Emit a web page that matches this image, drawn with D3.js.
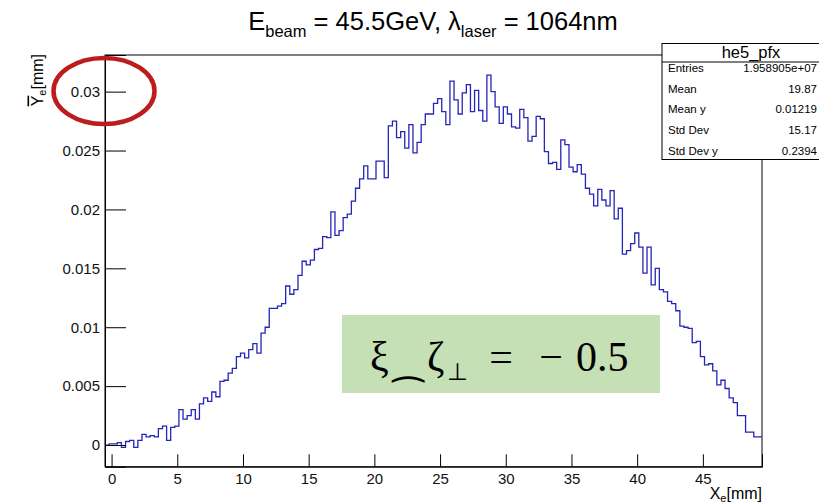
<!DOCTYPE html>
<html>
<head>
<meta charset="utf-8">
<script src="https://cdn.jsdelivr.net/npm/d3@7"></script>
<style>
  html, body { margin: 0; padding: 0; background: #fff; }
  svg { display: block; font-family: "Liberation Sans", Arial, Helvetica, sans-serif; }
</style>
</head>
<body>
<svg id="chart" width="819" height="504"></svg>
<script>
// Profile of mean Y_e versus X_e (he5_pfx), 160 bins over the X range
const binRange = [-0.5, 49.5];
const meanY = [
  0.0000, 0.0001, 0.0001, 0.0002, -0.0002, 0.0003, 0.0004, -0.0002, 0.0004, 0.0009,
  0.0007, 0.0008, 0.0007, 0.0014, 0.0016, 0.0004, 0.0015, 0.0016, 0.0030, 0.0022,
  0.0025, 0.0030, 0.0022, 0.0035, 0.0040, 0.0037, 0.0045, 0.0041, 0.0054, 0.0055,
  0.0061, 0.0065, 0.0075, 0.0078, 0.0074, 0.0081, 0.0086, 0.0078, 0.0095, 0.0100,
  0.0116, 0.0116, 0.0118, 0.0120, 0.0135, 0.0128, 0.0132, 0.0144, 0.0156, 0.0153,
  0.0157, 0.0166, 0.0167, 0.0177, 0.0176, 0.0198, 0.0178, 0.0182, 0.0193, 0.0196,
  0.0207, 0.0218, 0.0226, 0.0237, 0.0226, 0.0226, 0.0241, 0.0241, 0.0227, 0.0271,
  0.0275, 0.0261, 0.0266, 0.0252, 0.0272, 0.0248, 0.0257, 0.0272, 0.0281, 0.0281,
  0.0290, 0.0294, 0.0283, 0.0272, 0.0309, 0.0293, 0.0281, 0.0299, 0.0306, 0.0283,
  0.0301, 0.0284, 0.0275, 0.0314, 0.0300, 0.0287, 0.0273, 0.0287, 0.0281, 0.0270,
  0.0269, 0.0285, 0.0278, 0.0258, 0.0262, 0.0279, 0.0277, 0.0249, 0.0239, 0.0240,
  0.0234, 0.0259, 0.0255, 0.0236, 0.0232, 0.0238, 0.0230, 0.0218, 0.0213, 0.0203,
  0.0217, 0.0208, 0.0203, 0.0216, 0.0192, 0.0201, 0.0162, 0.0165, 0.0171, 0.0180,
  0.0168, 0.0146, 0.0168, 0.0136, 0.0150, 0.0132, 0.0130, 0.0122, 0.0120, 0.0114,
  0.0101, 0.0100, 0.0099, 0.0087, 0.0088, 0.0075, 0.0068, 0.0069, 0.0063, 0.0051,
  0.0055, 0.0048, 0.0040, 0.0036, 0.0025, 0.0025, 0.0011, 0.0011, 0.0007, 0.0007
];
const yRange = [-0.00184, 0.03311];

const xTickValues = [0, 5, 10, 15, 20, 25, 30, 35, 40, 45];
const xTickLabels = ["0", "5", "10", "15", "20", "25", "30", "35", "40", "45"];
const yTickValues = [0, 0.005, 0.01, 0.015, 0.02, 0.025, 0.03];
const yTickLabels = ["0", "0.005", "0.01", "0.015", "0.02", "0.025", "0.03"];

const statsTitle = "he5_pfx";
const statNames = ["Entries", "Mean", "Mean y", "Std Dev", "Std Dev y"];
const statValues = ["1.958905e+07", "19.87", "0.01219", "15.17", "0.2394"];

const sans = "'Liberation Sans', Arial, Helvetica, sans-serif";
const serif = "'Liberation Serif', 'DejaVu Serif', serif";

const svg = d3.select("#chart");
const frame = { left: 105, right: 762, top: 55, bottom: 466.7 };

const x = d3.scaleLinear().domain(binRange).range([frame.left, frame.right]);
const y = d3.scaleLinear().domain(yRange).range([frame.bottom, frame.top]);

// Frame
svg.append("rect")
  .attr("x", frame.left).attr("y", frame.top)
  .attr("width", frame.right - frame.left).attr("height", frame.bottom - frame.top)
  .attr("fill", "none").attr("stroke", "#000").attr("stroke-width", 1);

// Histogram outline (step line over bin edges)
const nBins = meanY.length;
const binWidth = (binRange[1] - binRange[0]) / nBins;
const pts = meanY.map((v, i) => [binRange[0] + i * binWidth, v]);
pts.push([binRange[1], meanY[nBins - 1]]);
svg.append("path")
  .datum(pts)
  .attr("fill", "none")
  .attr("stroke", "#2525b8")
  .attr("stroke-width", 1.3)
  .attr("d", d3.line().x(d => x(d[0])).y(d => y(d[1])).curve(d3.curveStepAfter));

// Y axis: major and minor ticks pointing into the frame
const yMinor = d3.range(-0.001, 0.0335, 0.001).filter(v => Math.abs(Math.round(v * 200) - v * 200) > 1e-6);
const yAxisG = svg.append("g").attr("transform", `translate(${frame.left},0)`);
yAxisG.call(d3.axisLeft(y).tickValues(yMinor).tickSize(-10).tickFormat(""));
yAxisG.call(d3.axisLeft(y).tickValues(yTickValues).tickSize(-21).tickPadding(5)
  .tickFormat((d, i) => yTickLabels[i]));
yAxisG.selectAll(".domain").attr("stroke", "#000");
yAxisG.selectAll(".tick line").attr("stroke", "#000");
yAxisG.selectAll(".tick text").style("font-size", "15px").style("font-family", sans).attr("fill", "#111");

// X axis: major and minor ticks pointing up into the frame
const xMinor = d3.range(0, 50, 1).filter(v => v % 5 !== 0);
const xAxisG = svg.append("g").attr("transform", `translate(0,${frame.bottom})`);
xAxisG.call(d3.axisBottom(x).tickValues(xMinor).tickSize(-6).tickFormat(""));
xAxisG.call(d3.axisBottom(x).tickValues(xTickValues).tickSize(-12.4).tickPadding(6.6)
  .tickFormat((d, i) => xTickLabels[i]));
xAxisG.selectAll(".domain").attr("stroke", "#000");
xAxisG.selectAll(".tick line").attr("stroke", "#000");
xAxisG.selectAll(".tick text").style("font-size", "15px").style("font-family", sans).attr("fill", "#111");

// Title
const title = svg.append("text")
  .attr("x", 433).attr("y", 30)
  .attr("text-anchor", "middle")
  .style("font-family", sans).style("font-size", "25.5px");
title.append("tspan").text("E");
title.append("tspan").style("font-size", "16.5px").attr("dy", 6.5).text("beam");
title.append("tspan").attr("dy", -6.5).text(" = 45.5GeV, λ");
title.append("tspan").style("font-size", "16.5px").attr("dy", 6.5).text("laser");
title.append("tspan").attr("dy", -6.5).text(" = 1064nm");

// Axis titles
const xTitle = svg.append("text")
  .attr("x", frame.right).attr("y", 499)
  .attr("text-anchor", "end")
  .style("font-family", sans).style("font-size", "16px");
xTitle.append("tspan").text("X");
xTitle.append("tspan").style("font-size", "11px").attr("dy", 3).text("e");
xTitle.append("tspan").attr("dy", -3).text("[mm]");

const yTitle = svg.append("text")
  .attr("transform", `translate(42.5,${frame.top - 1}) rotate(-90)`)
  .attr("text-anchor", "end")
  .style("font-family", sans).style("font-size", "16px");
yTitle.append("tspan").style("text-decoration", "overline").text("Y");
yTitle.append("tspan").style("font-size", "11px").attr("dy", 3.5).text("e");
yTitle.append("tspan").attr("dy", -3.5).text("[mm]");

// Statistics box
const sb = { x: 662, y: 43.5, w: 180, h: 116, head: 62 };
svg.append("rect")
  .attr("x", sb.x).attr("y", sb.y).attr("width", sb.w).attr("height", sb.h)
  .attr("fill", "#fff").attr("stroke", "#000").attr("stroke-width", 1);
svg.append("line")
  .attr("x1", sb.x).attr("x2", sb.x + sb.w).attr("y1", sb.head).attr("y2", sb.head)
  .attr("stroke", "#000");
svg.append("text")
  .attr("x", 751).attr("y", 58)
  .attr("text-anchor", "middle")
  .style("font-family", sans).style("font-size", "16.5px")
  .text(statsTitle);
const rowBase = [72, 92.7, 113.3, 134, 154.5];
statNames.forEach((name, i) => {
  svg.append("text").attr("x", 668).attr("y", rowBase[i])
    .style("font-family", sans).style("font-size", "11.5px").text(name);
  svg.append("text").attr("x", 817).attr("y", rowBase[i])
    .attr("text-anchor", "end")
    .style("font-family", sans).style("font-size", "11.5px").text(statValues[i]);
});

// Polarisation note
svg.append("rect")
  .attr("x", 342).attr("y", 315).attr("width", 318).attr("height", 78)
  .attr("fill", "#c5e0b4");
const note = svg.append("g").attr("fill", "#000");
note.append("text").attr("x", 370).attr("y", 371)
  .style("font-family", serif).style("font-size", "42px").text("ξ");
note.append("text").attr("x", 408).attr("y", 411)
  .attr("text-anchor", "middle")
  .style("font-family", "'DejaVu Sans', sans-serif").style("font-size", "37px").text("\u2040");
note.append("text").attr("x", 427).attr("y", 371)
  .style("font-family", serif).style("font-size", "42px").text("ζ");
note.append("text").attr("x", 457.5).attr("y", 380)
  .attr("text-anchor", "middle")
  .style("font-family", "'DejaVu Sans', sans-serif").style("font-size", "24px").text("\u22A5");
note.append("text").attr("x", 501).attr("y", 371)
  .attr("text-anchor", "middle")
  .style("font-family", serif).style("font-size", "42px").text("=");
note.append("text").attr("x", 551).attr("y", 371)
  .attr("text-anchor", "middle")
  .style("font-family", serif).style("font-size", "42px").text("\u2212");
note.append("text").attr("x", 628.5).attr("y", 371)
  .attr("text-anchor", "end")
  .style("font-family", serif).style("font-size", "42px").text("0.5");

// Highlight ellipse around the top y label
svg.append("ellipse")
  .attr("cx", 104).attr("cy", 91).attr("rx", 50.5).attr("ry", 33)
  .attr("fill", "none").attr("stroke", "#bd1c1c").attr("stroke-width", 4.5);
</script>
</body>
</html>
